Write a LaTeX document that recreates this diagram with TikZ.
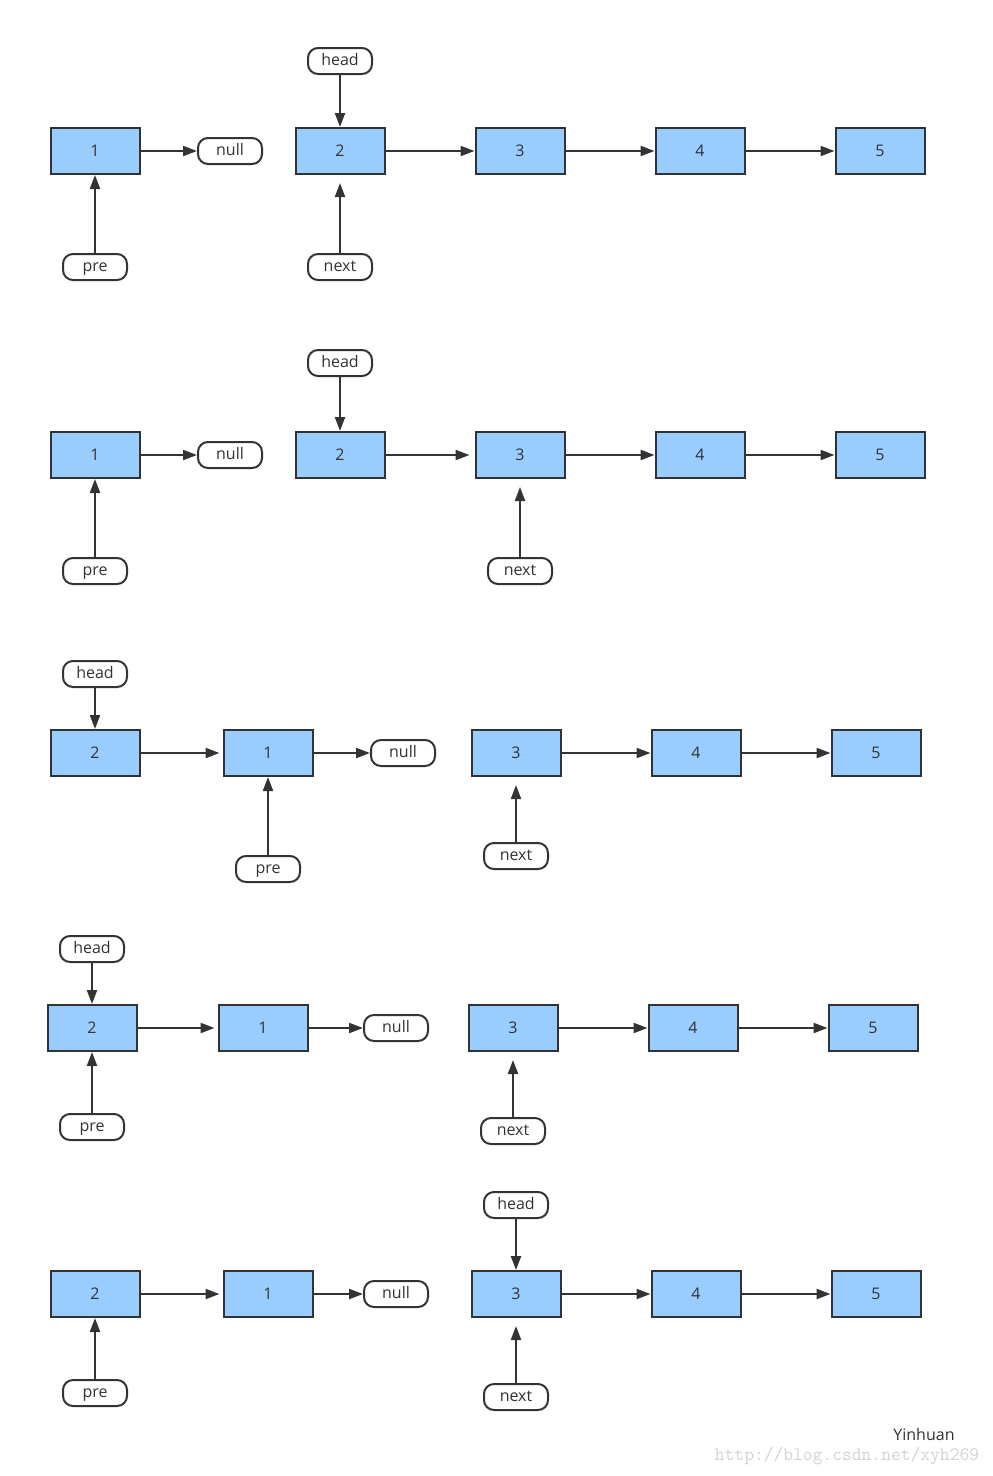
\documentclass[tikz,border=0pt]{standalone}
\usepackage{fontspec}
\setmainfont{Open Sans}
\usepackage{xcolor}
\usepackage{tikz}
\usetikzlibrary{arrows.meta,shapes,positioning}
\definecolor{cellblue}{RGB}{153,204,255}
\definecolor{linegray}{RGB}{51,51,51}

\begin{document}
\begin{tikzpicture}[x=1pt,y=-1pt]

           \tikzstyle{every node}=[font=\fontsize{16}{18}\selectfont, text=linegray]
           \tikzstyle{cell}=[draw=linegray, line width=2pt, fill=cellblue, minimum width=89pt, minimum height=46pt, inner sep=0pt, text height=11pt, text depth=0pt]
           \tikzstyle{ptr}=[draw=linegray, line width=2pt, fill=white, rounded corners=10pt, minimum width=64pt, minimum height=26pt, inner sep=0pt, text height=11pt, text depth=3pt]
           \tikzstyle{link}=[-{Triangle[length=14pt,width=10pt]}, draw=linegray, line width=2.2pt]
           \tikzstyle{gap}=[shorten >=8pt]

   \useasboundingbox (0,0) rectangle (993,1476);

   % row 1
   \node[cell] (A1) at (95,151) {1};
    \node[ptr] (An) at (230,151) {null};
    \node[cell] (A2) at (340,151) {2};
    \node[cell] (A3) at (520,151) {3};
    \node[cell] (A4) at (700,151) {4};
    \node[cell] (A5) at (880,151) {5};
    \node[ptr] (Ah) at (340,61) {head};
    \node[ptr] (Ap) at (95,267) {pre};
    \node[ptr] (Ax) at (340,267) {next};

    \path (A1) edge [link] (An);
    \path (A2) edge [link] (A3);
    \path (A3) edge [link] (A4);
    \path (A4) edge [link] (A5);
    \path (Ah) edge [link] (A2);
    \path (Ap) edge [link] (A1);
    \path (Ax) edge [link,gap] (A2);

   % row 2
   \node[cell] (B1) at (95,455) {1};
    \node[ptr] (Bn) at (230,455) {null};
    \node[cell] (B2) at (340,455) {2};
    \node[cell] (B3) at (520,455) {3};
    \node[cell] (B4) at (700,455) {4};
    \node[cell] (B5) at (880,455) {5};
    \node[ptr] (Bh) at (340,363) {head};
    \node[ptr] (Bp) at (95,571) {pre};
    \node[ptr] (Bx) at (520,571) {next};

    \path (B1) edge [link] (Bn);
    \path (B2) edge [link,shorten >=5pt] (B3);
    \path (B3) edge [link] (B4);
    \path (B4) edge [link] (B5);
    \path (Bh) edge [link] (B2);
    \path (Bp) edge [link] (B1);
    \path (Bx) edge [link,gap] (B3);

   % row 3
   \node[cell] (C2) at (95,753) {2};
    \node[cell] (C1) at (268,753) {1};
    \node[ptr] (Cn) at (403,753) {null};
    \node[cell] (C3) at (516,753) {3};
    \node[cell] (C4) at (696,753) {4};
    \node[cell] (C5) at (876,753) {5};
    \node[ptr] (Ch) at (95,674) {head};
    \node[ptr] (Cp) at (268,869) {pre};
    \node[ptr] (Cx) at (516,856) {next};

    \path (C2) edge [link,shorten >=3pt] (C1);
    \path (C1) edge [link] (Cn);
    \path (C3) edge [link] (C4);
    \path (C4) edge [link] (C5);
    \path (Ch) edge [link] (C2);
    \path (Cp) edge [link] (C1);
    \path (Cx) edge [link,gap] (C3);

   % row 4
   \node[cell] (D2) at (92,1028) {2};
    \node[cell] (D1) at (263,1028) {1};
    \node[ptr] (Dn) at (396,1028) {null};
    \node[cell] (D3) at (513,1028) {3};
    \node[cell] (D4) at (693,1028) {4};
    \node[cell] (D5) at (873,1028) {5};
    \node[ptr] (Dh) at (92,949) {head};
    \node[ptr] (Dp) at (92,1127) {pre};
    \node[ptr] (Dx) at (513,1131) {next};

    \path (D2) edge [link,shorten >=3pt] (D1);
    \path (D1) edge [link] (Dn);
    \path (D3) edge [link] (D4);
    \path (D4) edge [link] (D5);
    \path (Dh) edge [link] (D2);
    \path (Dp) edge [link] (D2);
    \path (Dx) edge [link,gap] (D3);

   % row 5
   \node[cell] (E2) at (95,1294) {2};
    \node[cell] (E1) at (268,1294) {1};
    \node[ptr] (En) at (396,1294) {null};
    \node[cell] (E3) at (516,1294) {3};
    \node[cell] (E4) at (696,1294) {4};
    \node[cell] (E5) at (876,1294) {5};
    \node[ptr] (Eh) at (516,1205) {head};
    \node[ptr] (Ep) at (95,1393) {pre};
    \node[ptr] (Ex) at (516,1397) {next};

    \path (E2) edge [link,shorten >=3pt] (E1);
    \path (E1) edge [link] (En);
    \path (E3) edge [link] (E4);
    \path (E4) edge [link] (E5);
    \path (Eh) edge [link] (E3);
    \path (Ep) edge [link] (E2);
    \path (Ex) edge [link,gap] (E3);

   % signature
   \node (sign) at (924,1434) {Yinhuan};
    \node[text=gray!35, font=\ttfamily\fontsize{19}{20}\selectfont] (url) at (847,1456) {http://blog.csdn.net/xyh269};
 \end{tikzpicture}
\end{document}
